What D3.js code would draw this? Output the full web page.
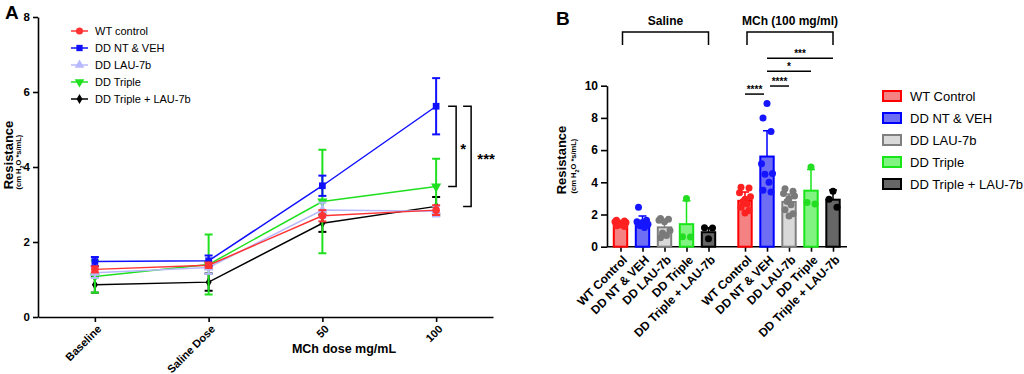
<!DOCTYPE html>
<html>
<head>
<meta charset="utf-8">
<script src="https://cdn.jsdelivr.net/npm/d3@7"></script>
<style>
  body { margin: 0; background: #fff; }
  svg { font-family: "Liberation Sans", Arial, sans-serif; }
</style>
</head>
<body>
<svg id="chart" width="1024" height="374"></svg>
<script>
// ---- Panel A: mean +/- SEM by dose ----
const doses   = ["Baseline", "Saline Dose", "50", "100"];
const wtMean  = [1.27, 1.38, 2.70, 2.85];
const wtSem   = [0.08, 0.07, 0.15, 0.13];
const ntMean  = [1.48, 1.50, 3.50, 5.62];
const ntSem   = [0.12, 0.14, 0.27, 0.75];
const lauMean = [1.18, 1.32, 2.85, 2.82];
const lauSem  = [0.14, 0.17, 0.20, 0.14];
const triMean = [1.08, 1.40, 3.08, 3.48];
const triSem  = [0.43, 0.80, 1.38, 0.74];
const tlMean  = [0.86, 0.93, 2.50, 2.95];
const tlSem   = [0.21, 0.23, 0.23, 0.25];
const yTicksA = [0, 2, 4, 6, 8];

// ---- Panel B: bars (mean + SD) with individual animals ----
const groupsB    = ["WT Control", "DD NT & VEH", "DD LAU-7b", "DD Triple", "DD Triple + LAU-7b"];
const conditions = ["Saline", "MCh (100 mg/ml)"];
const salineMean = [1.42, 1.50, 1.20, 1.40, 0.90];
const salineSd   = [0.15, 0.40, 0.45, 1.45, 0.28];
const mchMean    = [2.85, 5.60, 2.78, 3.48, 2.92];
const mchSd      = [0.55, 1.60, 0.50, 1.32, 0.60];
const salineDots = [
  [1.45, 1.65, 1.6, 1.55, 1.5, 1.4, 1.35, 1.3, 1.25, 1.45, 1.35],
  [1.5, 2.45, 1.65, 1.55, 1.4, 1.3, 1.2, 1.35],
  [1.55, 1.75, 1.7, 1.65, 1.0, 0.85, 0.7, 0.55],
  [3.0, 0.62, 0.6],
  [0.5, 1.18, 1.16]
];
const mchDots = [
  [2.95, 3.7, 3.65, 3.35, 3.1, 2.8, 2.65, 2.45, 2.25, 2.1],
  [8.9, 8.0, 7.15, 5.15, 4.55, 4.5, 4.0, 3.5, 3.4],
  [3.0, 3.6, 3.45, 3.3, 3.15, 2.8, 2.6, 2.3, 2.05, 1.9],
  [4.95, 2.75, 2.65],
  [3.45, 2.95, 2.45]
];
const yTicksB = [0, 2, 4, 6, 8, 10];

const svg = d3.select("#chart");
svg.append("rect").attr("width", 1024).attr("height", 374).attr("fill", "#fff");

// ================= Panel A =================
const yA = d3.scaleLinear().domain([0, 8]).range([317, 17]);
const xA = d3.scalePoint().domain(doses).range([38, 493]).padding(0.5);

const gA = svg.append("g");

gA.append("g")
    .attr("transform", "translate(38,0)")
    .call(d3.axisLeft(yA).tickValues(yTicksA).tickSize(5).tickSizeOuter(0))
    .call(g => g.selectAll("text").attr("font-size", "11.5px").attr("font-weight", "bold").attr("fill", "#000"));

gA.append("g")
    .attr("transform", "translate(0,317)")
    .call(d3.axisBottom(xA).tickSize(5).tickSizeOuter(0))
    .call(g => g.selectAll("text")
        .attr("x", 0).attr("y", 0).attr("dy", "0.35em")
        .attr("text-anchor", "end")
        .attr("transform", "translate(4,10) rotate(-45)")
        .attr("font-size", "11px").attr("font-weight", "bold").attr("fill", "#000"));

gA.selectAll(".domain, .tick line").attr("stroke", "#000").attr("stroke-width", 1.6);

// titles
gA.append("text")
    .attr("transform", "translate(13,155) rotate(-90)")
    .attr("text-anchor", "middle")
    .attr("font-size", "13px").attr("font-weight", "bold")
    .text("Resistance");
const subA = gA.append("text")
    .attr("transform", "translate(21,162) rotate(-90)")
    .attr("text-anchor", "middle")
    .attr("font-size", "7.5px").attr("font-weight", "bold");
subA.append("tspan").text("(cm H");
subA.append("tspan").attr("baseline-shift", "sub").attr("font-size", "5.5px").text("2");
subA.append("tspan").text("O *s/mL)");

gA.append("text")
    .attr("x", 344).attr("y", 353)
    .attr("text-anchor", "middle")
    .attr("font-size", "12.5px").attr("font-weight", "bold")
    .text("MCh dose mg/mL");

svg.append("text").attr("x", 5).attr("y", 19)
    .attr("font-size", "19px").attr("font-weight", "bold").text("A");

const seriesA = [
  { name: "WT control",         mean: wtMean,  sem: wtSem,  color: "#ff3333", symbol: d3.symbolCircle,   rot: 0 },
  { name: "DD NT & VEH",        mean: ntMean,  sem: ntSem,  color: "#1010ff", symbol: d3.symbolSquare,   rot: 0 },
  { name: "DD LAU-7b",          mean: lauMean, sem: lauSem, color: "#b8b8ff", symbol: d3.symbolTriangle, rot: 0 },
  { name: "DD Triple",          mean: triMean, sem: triSem, color: "#1fe01f", symbol: d3.symbolTriangle, rot: 180 },
  { name: "DD Triple + LAU-7b", mean: tlMean,  sem: tlSem,  color: "#000000", symbol: d3.symbolDiamond,  rot: 0 }
];

const line = d3.line().x((d, i) => xA(doses[i])).y(d => yA(d));

// draw from back to front so WT sits on top
seriesA.slice().reverse().forEach(s => {
  const g = gA.append("g");
  const pts = s.mean.map((m, i) => ({ dose: doses[i], m, e: s.sem[i] }));
  const eb = g.selectAll(".eb").data(pts).enter().append("g");
  eb.append("line")
      .attr("x1", d => xA(d.dose)).attr("x2", d => xA(d.dose))
      .attr("y1", d => yA(d.m - d.e)).attr("y2", d => yA(d.m + d.e))
      .attr("stroke", s.color).attr("stroke-width", 2);
  [-1, 1].forEach(sgn => {
    eb.append("line")
        .attr("x1", d => xA(d.dose) - 4).attr("x2", d => xA(d.dose) + 4)
        .attr("y1", d => yA(d.m + sgn * d.e)).attr("y2", d => yA(d.m + sgn * d.e))
        .attr("stroke", s.color).attr("stroke-width", 2);
  });
  g.append("path").datum(s.mean)
      .attr("d", line).attr("fill", "none")
      .attr("stroke", s.color).attr("stroke-width", 1.5);
  g.selectAll(".mk").data(pts).enter().append("path")
      .attr("d", d3.symbol().type(s.symbol).size(s.symbol === d3.symbolDiamond ? 30 : 45))
      .attr("transform", d => `translate(${xA(d.dose)},${yA(d.m)}) rotate(${s.rot})`)
      .attr("fill", s.color);
});

// legend A
const legA = gA.append("g");
seriesA.forEach((s, i) => {
  const y = 31 + i * 17;
  legA.append("line").attr("x1", 71).attr("x2", 88).attr("y1", y).attr("y2", y)
      .attr("stroke", s.color).attr("stroke-width", 1.5);
  legA.append("path")
      .attr("d", d3.symbol().type(s.symbol).size(s.symbol === d3.symbolDiamond ? 30 : 40))
      .attr("transform", `translate(79.5,${y}) rotate(${s.rot})`)
      .attr("fill", s.color);
  legA.append("text").attr("x", 95).attr("y", y).attr("dy", "0.35em")
      .attr("font-size", "11px").text(s.name);
});

// significance brackets A
const sigA = [
  { top: ntMean[3], bottom: triMean[3], off: 12, label: "*",   lx: 27 },
  { top: ntMean[3], bottom: tlMean[3],  off: 27, label: "***", lx: 50 }
];
const x100 = xA("100");
sigA.forEach(b => {
  const x0 = x100 + b.off, x1 = x0 + 8;
  gA.append("path")
      .attr("d", `M${x0},${yA(b.top)}H${x1}V${yA(b.bottom)}H${x0}`)
      .attr("fill", "none").attr("stroke", "#000").attr("stroke-width", 1.5);
  gA.append("text")
      .attr("x", x100 + b.lx).attr("y", (yA(b.top) + yA(b.bottom)) / 2 + 8)
      .attr("text-anchor", "middle")
      .attr("font-size", "15px").attr("font-weight", "bold")
      .text(b.label);
});

// ================= Panel B =================
const yB = d3.scaleLinear().domain([0, 10]).range([246.7, 85.7]);
const outer = d3.scaleBand().domain(conditions).range([609.5, 844]).paddingInner(0.1165);
const inner = d3.scaleBand().domain(groupsB).range([0, outer.bandwidth()]).paddingInner(0.3).paddingOuter(0.15);
const cx = (c, gname) => outer(c) + inner(gname) + inner.bandwidth() / 2;

const fills   = ["#f58282", "#6e6ef5", "#d9d9d9", "#80f380", "#666666"];
const strokes = ["#ff0000", "#0000ff", "#7f7f7f", "#19e619", "#000000"];
const dotCol  = ["#ff2020", "#1515ff", "#7a7a7a", "#22dd22", "#000000"];
const jitter  = [0, -4, 4, -5.5, 5.5, -2, 2, -4, 4, 0, -2];

const gB = svg.append("g");

gB.append("g")
    .attr("transform", "translate(607,0)")
    .call(d3.axisLeft(yB).tickValues(yTicksB).tickSize(6).tickSizeOuter(0))
    .call(g => g.selectAll("text").attr("font-size", "12px").attr("font-weight", "bold").attr("fill", "#000"));

const keysB = [];
conditions.forEach(c => groupsB.forEach(gname => keysB.push({ c, gname })));
const xTickScale = d3.scaleOrdinal()
    .domain(keysB.map(k => k.c + "|" + k.gname))
    .range(keysB.map(k => cx(k.c, k.gname)));

gB.append("g")
    .attr("transform", "translate(0,246.7)")
    .call(d3.axisBottom(xTickScale).tickSize(5).tickSizeOuter(0).tickFormat(k => k.split("|")[1]))
    .call(g => g.select(".domain").remove())
    .call(g => g.selectAll("text")
        .attr("x", 0).attr("y", 0).attr("dy", "0.35em")
        .attr("text-anchor", "end")
        .attr("transform", "translate(4,11) rotate(-45)")
        .attr("font-size", "12px").attr("font-weight", "bold").attr("fill", "#000"));
gB.append("line").attr("x1", 607).attr("x2", 847).attr("y1", 246.7).attr("y2", 246.7)
    .attr("stroke", "#000").attr("stroke-width", 1.6);
gB.selectAll(".domain, .tick line").attr("stroke", "#000").attr("stroke-width", 1.6);

// bars, error bars, dots
const barData = [];
conditions.forEach((c, ci) => groupsB.forEach((gname, gi) => {
  barData.push({
    c, gname, gi,
    mean: ci === 0 ? salineMean[gi] : mchMean[gi],
    sd: ci === 0 ? salineSd[gi] : mchSd[gi],
    dots: ci === 0 ? salineDots[gi] : mchDots[gi]
  });
}));

const bw = inner.bandwidth();
gB.selectAll(".eb").data(barData).enter().append("path")
    .attr("d", d => {
      const x = cx(d.c, d.gname), yt = yB(d.mean + d.sd);
      return `M${x},${yB(d.mean)}V${yt}M${x - 4},${yt}H${x + 4}`;
    })
    .attr("fill", "none")
    .attr("stroke", d => strokes[d.gi]).attr("stroke-width", 1.5);

gB.selectAll(".bar").data(barData).enter().append("rect")
    .attr("x", d => cx(d.c, d.gname) - bw / 2 + 1)
    .attr("width", bw - 2)
    .attr("y", d => yB(d.mean))
    .attr("height", d => yB(0) - yB(d.mean))
    .attr("fill", d => fills[d.gi])
    .attr("stroke", d => strokes[d.gi]).attr("stroke-width", 2);

barData.forEach(d => {
  gB.selectAll(null).data(d.dots).enter().append("circle")
      .attr("cx", (v, i) => cx(d.c, d.gname) + jitter[i % jitter.length])
      .attr("cy", v => yB(v))
      .attr("r", 3.5)
      .attr("fill", dotCol[d.gi]);
});

// y title B
gB.append("text")
    .attr("transform", "translate(566,160) rotate(-90)")
    .attr("text-anchor", "middle")
    .attr("font-size", "13px").attr("font-weight", "bold")
    .text("Resistance");
const subB = gB.append("text")
    .attr("transform", "translate(576,166) rotate(-90)")
    .attr("text-anchor", "middle")
    .attr("font-size", "7.5px").attr("font-weight", "bold");
subB.append("tspan").text("(cm H");
subB.append("tspan").attr("baseline-shift", "sub").attr("font-size", "5.5px").text("2");
subB.append("tspan").text("O *s/mL)");

svg.append("text").attr("x", 556).attr("y", 25)
    .attr("font-size", "19px").attr("font-weight", "bold").text("B");

// condition headers and brackets
conditions.forEach(c => {
  const x0 = cx(c, groupsB[0]) + 2, x1 = cx(c, groupsB[4]);
  gB.append("text")
      .attr("x", (x0 + x1) / 2).attr("y", 25)
      .attr("text-anchor", "middle")
      .attr("font-size", "12px").attr("font-weight", "bold")
      .text(c);
  gB.append("path")
      .attr("d", `M${x0},45V32H${x1}V45`)
      .attr("fill", "none").attr("stroke", "#000").attr("stroke-width", 1.5);
});

// significance lines B (MCh group)
const sigB = [
  { a: 0, b: 1, y: 9.48, label: "****" },
  { a: 1, b: 2, y: 9.98, label: "****" },
  { a: 1, b: 3, y: 10.9, label: "*" },
  { a: 1, b: 4, y: 11.7, label: "***" }
];
const mc = conditions[1];
sigB.forEach(s => {
  const x0 = cx(mc, groupsB[s.a]) + (s.a === 1 && s.b === 2 ? 3 : 0);
  const x1 = cx(mc, groupsB[s.b]) - (s.a === 0 ? 3 : 0);
  gB.append("line").attr("x1", x0).attr("x2", x1)
      .attr("y1", yB(s.y)).attr("y2", yB(s.y))
      .attr("stroke", "#000").attr("stroke-width", 1.5);
  gB.append("text")
      .attr("x", (x0 + x1) / 2).attr("y", yB(s.y) - 1.5)
      .attr("text-anchor", "middle")
      .attr("font-size", "10px").attr("font-weight", "bold")
      .text(s.label);
});

// legend B
groupsB.forEach((gname, i) => {
  const y = 96 + i * 22;
  gB.append("rect").attr("x", 883).attr("y", y - 5).attr("width", 18).attr("height", 10)
      .attr("fill", fills[i]).attr("stroke", strokes[i]).attr("stroke-width", 2);
  gB.append("text").attr("x", 910).attr("y", y).attr("dy", "0.35em")
      .attr("font-size", "13px").text(gname);
});
</script>
</body>
</html>
